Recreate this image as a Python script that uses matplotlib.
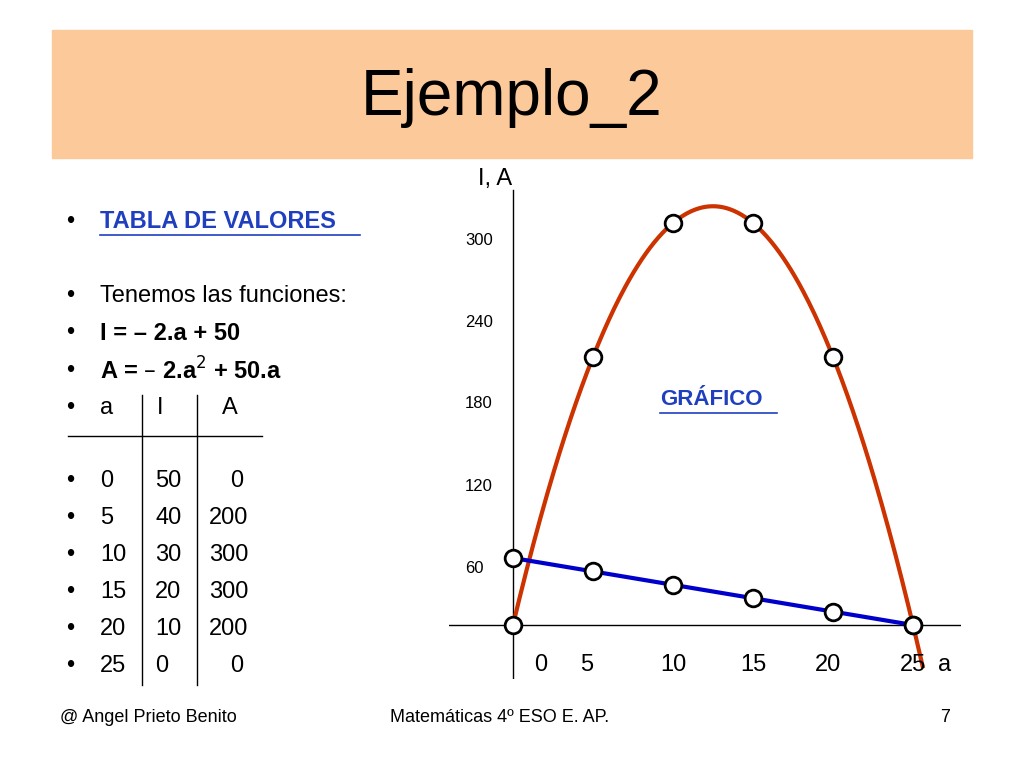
import numpy as np
import matplotlib
matplotlib.use("Agg")
import matplotlib.pyplot as plt
from matplotlib.patches import Rectangle

a_vals = [0, 5, 10, 15, 20, 25]
I_vals = [50, 40, 30, 20, 10, 0]
A_vals = [0, 200, 300, 300, 200, 0]
y_tick_vals = [60, 120, 180, 240, 300]
y_tick_pos = [42, 103, 165, 226, 287]  # label placement in data units
x_tick_labels = ["0", "5", "10", "15", "20", "25"]
x_tick_pos = [1.7, 4.6, 10, 15, 19.7, 25]

W, H = 1024, 768
fig = plt.figure(figsize=(10.24, 7.68), dpi=100)
plt.rcParams["font.family"] = "Liberation Sans"

bg = fig.add_axes([0, 0, 1, 1])
bg.set_xlim(0, W); bg.set_ylim(H, 0); bg.axis("off")
bg.add_patch(Rectangle((52, 30), 920, 128, color="#FCC99B", zorder=0))
bg.text(512, 98, "Ejemplo_2", fontsize=46, ha="center", va="center")

def bullet(y, txt, bold=False, color="black", underline=False, x=100):
    bg.text(66, y, "•", fontsize=17, va="center")
    t = bg.text(x, y, txt, fontsize=17, va="center", weight="bold" if bold else "normal", color=color)
    return t

bullet(222, "TABLA DE VALORES", bold=True, color="#1F3FBF")
bg.plot([100, 360], [235, 235], color="#1F3FBF", lw=1.2)
bullet(296, "Tenemos las funciones:")
bullet(333, "I = – 2.a + 50", bold=True)
bg.text(66, 371, "•", fontsize=17, va="center")
bg.text(100, 371, r"A = – 2.a$^{2}$ + 50.a", fontsize=17, va="center", weight="bold")
bg.text(66, 408, "•", fontsize=17, va="center")
bg.text(100, 408, "a", fontsize=17, va="center")
bg.text(157, 408, "I", fontsize=17, va="center")
bg.text(222, 408, "A", fontsize=17, va="center")
bg.plot([68, 262], [436, 436], color="black", lw=1)
bg.plot([142, 142], [395, 685], color="black", lw=1)
bg.plot([197, 197], [395, 685], color="black", lw=1)
for i, (a, I, A) in enumerate(zip(a_vals, I_vals, A_vals)):
    y = 481 + i * 37
    bg.text(66, y, "•", fontsize=17, va="center")
    bg.text(100, y, str(a), fontsize=17, va="center")
    bg.text(155, y, str(I), fontsize=17, va="center")
    bg.text(230 if A == 0 else 209, y, str(A), fontsize=17, va="center")

bg.text(60, 718, "@ Angel Prieto Benito", fontsize=13, va="center")
bg.text(390, 718, "Matemáticas 4º ESO E. AP.", fontsize=13, va="center")
bg.text(940, 718, "7", fontsize=13, va="center")

# chart axes: a=0 at x=513, 16 px/unit; A=0 at y=625, 1.34 px/unit
x0, y0, sx, sy = 513, 625, 16.0, 1.34
xmin, xmax, ymin, ymax = -4, 28, -40, 340
left = (x0 + xmin * sx) / W
right = (x0 + xmax * sx) / W
bottom = 1 - (y0 - ymin * sy) / H
top = 1 - (y0 - ymax * sy) / H
ax = fig.add_axes([left, bottom, right - left, top - bottom])
ax.set_xlim(xmin, xmax); ax.set_ylim(ymin, ymax)
ax.axis("off")
ax.plot([xmin, xmax], [0, 0], color="black", lw=1)
ax.plot([0, 0], [-40, 325], color="black", lw=1)

aa = np.linspace(0, 25.6, 300)
ax.plot(aa, -2 * aa**2 + 50 * aa, color="#CC3300", lw=3, zorder=2)
ax.plot(a_vals, I_vals, color="#0000CC", lw=3, zorder=2)
ax.plot(a_vals, A_vals, "o", ms=12, mfc="white", mec="black", mew=2, zorder=3)
ax.plot(a_vals, I_vals, "o", ms=12, mfc="white", mec="black", mew=2, zorder=3)

for v, p in zip(y_tick_vals, y_tick_pos):
    ax.text(-3.0, p, str(v), fontsize=12, va="center")
for lab, p in zip(x_tick_labels, x_tick_pos):
    ax.text(p, -30, lab, fontsize=17, ha="center", va="center")
ax.text(27, -30, "a", fontsize=17, ha="center", va="center")
ax.text(-2.2, 333, "I, A", fontsize=17, va="center")
ax.text(9.2, 168, "GRÁFICO", fontsize=16, weight="bold", color="#1F3FBF", va="center")
ax.plot([9.2, 16.5], [158, 158], color="#1F3FBF", lw=1.2)

fig.savefig("out.png", dpi=100)
